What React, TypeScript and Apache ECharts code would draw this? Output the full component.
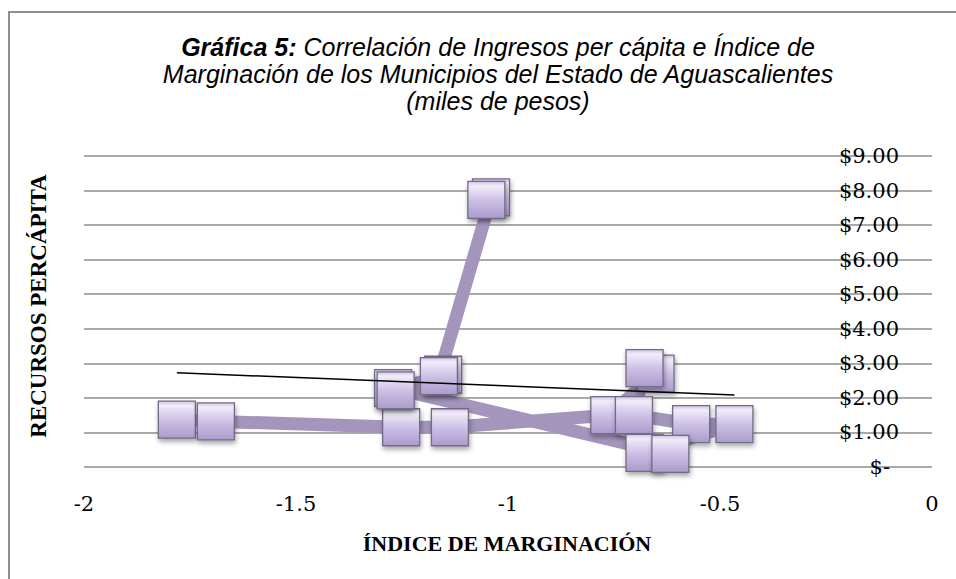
import React, { useEffect, useRef } from 'react';
import * as echarts from 'echarts';

// Data (order follows the connecting line in the reference)
const indiceMarginacion = [-1.781, -1.689, -1.252, -1.137, -0.761, -0.652, -0.678, -0.703, -0.568, -0.466, -0.678, -0.617, -1.271, -1.265, -1.153, -1.163, -1.040, -1.051];
const recursosPercapita = [1.37, 1.32, 1.15, 1.15, 1.50, 2.70, 2.86, 1.50, 1.24, 1.24, 0.41, 0.38, 2.28, 2.22, 2.67, 2.63, 7.80, 7.73];

const xTicks = { min: -2, max: 0, interval: 0.5 };
const yTicks = { min: 0, max: 9, interval: 1 };

const titleText = '{b|Gráfica 5:} Correlación de Ingresos per cápita e Índice de\nMarginación de los Municipios del Estado de Aguascalientes\n(miles de pesos)';
const yTitle = 'RECURSOS PERCÁPITA';
const xTitle = 'ÍNDICE DE MARGINACIÓN';

export default function App() {
  const ref = useRef<HTMLDivElement>(null);
  useEffect(() => {
    const chart = echarts.init(ref.current as HTMLDivElement, null, { renderer: 'svg' });
    const pts = indiceMarginacion.map((x, i) => [x, recursosPercapita[i]]);
    const n = pts.length;
    const mx = indiceMarginacion.reduce((a, b) => a + b, 0) / n;
    const my = recursosPercapita.reduce((a, b) => a + b, 0) / n;
    let sxy = 0, sxx = 0;
    for (let i = 0; i < n; i++) {
      sxy += (indiceMarginacion[i] - mx) * (recursosPercapita[i] - my);
      sxx += (indiceMarginacion[i] - mx) ** 2;
    }
    const slope = sxy / sxx;
    const icpt = my - slope * mx;
    const xmin = Math.min(...indiceMarginacion);
    const xmax = Math.max(...indiceMarginacion);
    const trend = [[xmin, icpt + slope * xmin], [xmax, icpt + slope * xmax]];

    const serif = 'DejaVu Serif';
    chart.setOption({
      animation: false,
      backgroundColor: '#ffffff',
      grid: { left: 84, right: 24, top: 156, bottom: 112, containLabel: false },
      xAxis: {
        type: 'value', min: xTicks.min, max: xTicks.max, interval: xTicks.interval,
        axisLine: { show: false }, axisTick: { show: false }, splitLine: { show: false },
        axisLabel: { color: '#000', fontFamily: serif, fontSize: 21, margin: 26, formatter: (v: number) => String(v) },
      },
      yAxis: {
        type: 'value', position: 'right', min: yTicks.min, max: yTicks.max, interval: yTicks.interval,
        axisLine: { show: false }, axisTick: { show: false },
        splitLine: { show: true, lineStyle: { color: '#8c8c8c', width: 1.5 } },
        axisLabel: {
          inside: true, margin: 33, color: '#000', fontFamily: serif, fontSize: 21,
          formatter: (v: number) => (v === 0 ? '{z|$-}' : '$' + v.toFixed(2)),
          rich: { z: { fontFamily: serif, fontSize: 21, color: '#000', padding: [0, 9, 0, 0] } },
        },
      },
      series: [
        {
          type: 'line', data: pts, symbol: 'rect', symbolSize: 37, z: 2,
          lineStyle: { color: '#a495bd', width: 13, join: 'miter' },
          itemStyle: {
            color: new echarts.graphic.LinearGradient(0, 0, 0, 1, [
              { offset: 0, color: '#cfc4e6' },
              { offset: 0.12, color: '#f1ecf9' },
              { offset: 0.5, color: '#cdc1e6' },
              { offset: 1, color: '#ab9bcb' },
            ]),
            borderColor: '#736b85', borderWidth: 1.3,
            shadowBlur: 5, shadowColor: 'rgba(0,0,0,0.35)', shadowOffsetX: 1, shadowOffsetY: 3,
          },
          emphasis: { disabled: true },
        },
        {
          type: 'line', data: trend, showSymbol: false, symbol: 'none', z: 5,
          lineStyle: { color: '#000', width: 1.5 }, silent: true,
        },
      ],
      graphic: [
        { type: 'rect', silent: true, z: -10, shape: { x: 9, y: 12, width: 1200, height: 1200 }, style: { fill: 'none', stroke: '#8f8f8f', lineWidth: 2 } },
        {
          type: 'text', x: 498, y: 33, silent: true,
          style: {
            text: titleText, align: 'center', textAlign: 'center', verticalAlign: 'top', textVerticalAlign: 'top',
            fontFamily: 'Liberation Sans, Arial', fontStyle: 'italic', fontSize: 25, lineHeight: 27, fill: '#000',
            rich: { b: { fontFamily: 'Liberation Sans, Arial', fontStyle: 'italic', fontWeight: 'bold', fontSize: 25, lineHeight: 27, fill: '#000' } },
          },
        },
        {
          type: 'text', x: 38, y: 306, rotation: Math.PI / 2, silent: true,
          style: { text: yTitle, align: 'center', textAlign: 'center', verticalAlign: 'middle', textVerticalAlign: 'middle', fontFamily: 'Liberation Serif', fontWeight: 'bold', fontSize: 23, fill: '#000' },
        },
        {
          type: 'text', x: 507, y: 543, silent: true,
          style: { text: xTitle, align: 'center', textAlign: 'center', verticalAlign: 'middle', textVerticalAlign: 'middle', fontFamily: 'Liberation Serif', fontWeight: 'bold', fontSize: 22, fill: '#000' },
        },
      ],
    });
    return () => chart.dispose();
  }, []);
  return <div ref={ref} style={{ position: 'absolute', left: 0, top: 0, width: 956, height: 579, background: '#fff' }} />;
}
